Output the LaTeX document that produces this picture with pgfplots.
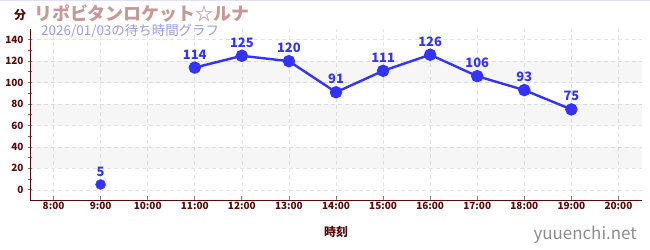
\documentclass[border=0pt]{standalone}
\usepackage{pgfplots}
\pgfplotsset{compat=1.18}
\usepackage{fontspec}
\setmainfont{Noto Sans CJK JP}
\definecolor{axred}{HTML}{5A0A0A}
\definecolor{ptblue}{HTML}{3333FF}
\definecolor{ttl}{HTML}{C89898}
\definecolor{sub}{HTML}{9999EE}
\definecolor{gridc}{HTML}{E4E4E4}
\begin{document}
\begin{tikzpicture}
\path[use as bounding box] (0,0) rectangle (650bp,250bp);
\draw[color=sub!30,line width=0.8bp] (0,249.6bp) -- (650bp,249.6bp);
\begin{axis}[
  at={(30bp,50bp)}, anchor=south west,
  scale only axis, width=612bp, height=171bp,
  xmin=7.5, xmax=20.5, ymin=-9.5, ymax=150,
  axis lines*=left,
  axis line style={color=axred, line width=0.9bp},
  xtick={8,...,20},
  xticklabels={8:00,9:00,10:00,11:00,12:00,13:00,14:00,15:00,16:00,17:00,18:00,19:00,20:00},
  ytick={0,20,...,140},
  minor ytick={10,30,...,130},
  tick style={color=gray, line width=0.8bp},
  major tick length=4bp,
  minor tick style={color=red!80, line width=0.8bp},
  minor tick length=3bp,
  ytick align=center,
  xtick align=inside,
  grid=major,
  major grid style={color=gridc, line width=0.6bp, dash pattern=on 4bp off 3bp},
  tick label style={font=\fontsize{10}{10}\selectfont\bfseries, text=axred},
  yticklabel style={xshift=-1bp},
  xticklabel style={yshift=1bp},
  /pgf/number format/assume math mode=true,
  xlabel={\textbf{時刻}}, xlabel style={font=\fontsize{12}{12}\selectfont, text=axred, yshift=-9bp},
  clip=false,
  every node near coord/.append style={font=\fontsize{13}{13}\selectfont\bfseries, text=ptblue, yshift=4bp},
]
\addplot[fill=black, fill opacity=0.035, draw=none, forget plot] coordinates {(7.5,20) (20.5,20) (20.5,40) (7.5,40)} -- cycle;
\addplot[fill=black, fill opacity=0.035, draw=none, forget plot] coordinates {(7.5,60) (20.5,60) (20.5,80) (7.5,80)} -- cycle;
\addplot[fill=black, fill opacity=0.035, draw=none, forget plot] coordinates {(7.5,100) (20.5,100) (20.5,120) (7.5,120)} -- cycle;
\addplot[color=ptblue, line width=2.4bp, mark=*, mark size=5bp, mark options={fill=ptblue, draw=ptblue}, nodes near coords] coordinates {
(11,114) (12,125) (13,120) (14,91) (15,111) (16,126) (17,106) (18,93) (19,75)
};
\addplot[only marks, color=ptblue, mark=*, mark size=5bp, mark options={fill=ptblue, draw=ptblue}, nodes near coords] coordinates {
(9,5)
};
\end{axis}
\node[font=\fontsize{12}{12}\selectfont\bfseries, text=axred] at (20bp,235bp) {分};
\node[anchor=west, font=\fontsize{18}{18}\selectfont\bfseries, text=ttl, inner sep=0] at (34bp,236bp) {リポビタンロケット☆ルナ};
\node[anchor=west, font=\fontsize{13.5}{13.5}\selectfont, text=sub, inner sep=0] at (41bp,219bp) {2026/01/03の待ち時間グラフ};
\node[anchor=east, font=\fontsize{17}{17}\selectfont, text=gray!90, inner sep=0] at (637bp,15bp) {yuuenchi.net};
\end{tikzpicture}
\end{document}
